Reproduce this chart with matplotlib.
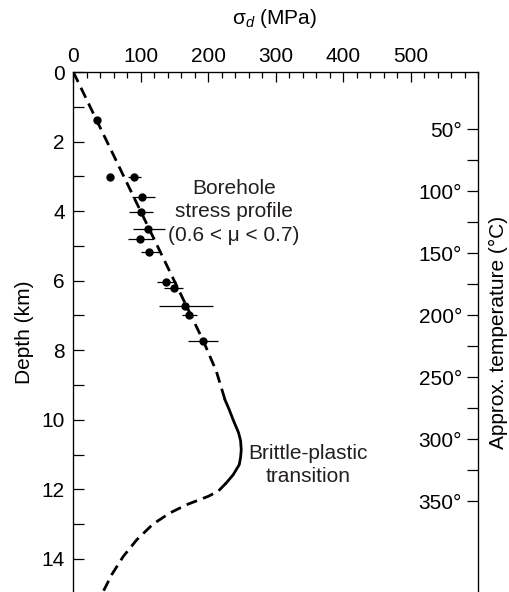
import numpy as np
import matplotlib.pyplot as plt
from matplotlib.ticker import MultipleLocator, FixedLocator

plt.rcParams['font.family'] = ['Liberation Sans', 'DejaVu Sans']
plt.rcParams['mathtext.fontset'] = 'custom'
plt.rcParams['mathtext.rm'] = 'Liberation Sans'
plt.rcParams['mathtext.it'] = 'Liberation Sans:italic'

FS = 15

# borehole stress measurements (depth km, stress MPa, horizontal error bar ends)
pt_depth = [1.38, 3.01, 3.01, 3.58, 4.03, 4.52, 4.80, 5.18, 6.03, 6.20, 6.74, 7.00, 7.72]
pt_stress = [35, 54, 90, 102, 100, 111, 99, 112, 137, 150, 166, 172, 192]
err_lo = [35, 54, 81.5, 86.5, 83, 89, 81.5, 100, 124.4, 134, 127, 160.6, 170]
err_hi = [35, 54, 101, 121, 118.5, 136, 117.6, 128, 152, 163, 207, 184, 215]

# extrapolated strength profile
upper_depth = [0, 7.7, 8.6, 9.43]
upper_stress = [0, 192, 212, 225]
solid_depth = [9.43, 9.7, 10.0, 10.37, 10.6, 10.86, 11.08, 11.29, 11.58, 11.81]
solid_stress = [225, 231, 237, 245, 248, 249, 248, 246, 237, 227]
lower_depth = [11.81, 12.05, 12.2, 12.44, 12.68, 13.0, 13.45, 13.93, 14.45, 14.95]
lower_stress = [227, 215, 200, 168, 143, 118, 94, 74, 57, 44]

depth_ticks = [0, 2, 4, 6, 8, 10, 12, 14]
stress_ticks = [0, 100, 200, 300, 400, 500]
temp_ticks = [50, 100, 150, 200, 250, 300, 350]
temp_minor = [75, 125, 175, 225, 275, 325]

# approximate geotherm used for the right axis
T0, dTdz = 3.8, 28.06

fig = plt.figure(figsize=(5.09, 5.92), dpi=100)
ax = fig.add_axes([73.3 / 509, 0, (478 - 73.3) / 509, 1 - 72 / 592])

ax.plot(upper_stress, upper_depth, color='k', lw=2, ls='--', dashes=(4, 2.3))
ax.plot(solid_stress, solid_depth, color='k', lw=2)
ax.plot(lower_stress, lower_depth, color='k', lw=2, ls='--', dashes=(4, 2.3))

pt_stress = np.array(pt_stress)
xerr = [pt_stress - np.array(err_lo), np.array(err_hi) - pt_stress]
ax.errorbar(pt_stress, pt_depth, xerr=xerr, fmt='o', color='k', ms=5,
            elinewidth=0.9, capsize=0)

ax.text(238, 4.02, 'Borehole\nstress profile\n(0.6 < μ < 0.7)', ha='center',
        va='center', fontsize=FS, color='#231f20', linespacing=1.3)
ax.text(348, 11.3, 'Brittle-plastic\ntransition', ha='center', va='center',
        fontsize=FS, color='#231f20', linespacing=1.3)

ax.set_xlim(0, 600)
ax.set_ylim(14.95, 0)
ax.xaxis.tick_top()
ax.set_xticks(stress_ticks)
ax.xaxis.set_minor_locator(MultipleLocator(20))
ax.set_yticks(depth_ticks)
ax.yaxis.set_minor_locator(MultipleLocator(1))
ax.tick_params(axis='x', which='major', direction='in', length=7, width=0.9,
               labelsize=FS, pad=4.5, top=True, bottom=False)
ax.tick_params(axis='x', which='minor', direction='in', length=4, width=0.9,
               top=True, bottom=False)
ax.tick_params(axis='y', which='both', direction='in', length=8, width=0.9,
               labelsize=FS, pad=6)
ax.spines['bottom'].set_visible(False)
for s in ['left', 'top', 'right']:
    ax.spines[s].set_linewidth(0.9)

ax2 = ax.twinx()
ax2.set_ylim(T0 + dTdz * 14.95, T0)
ax2.yaxis.set_major_locator(FixedLocator(temp_ticks))
ax2.yaxis.set_minor_locator(FixedLocator(temp_minor))
ax2.set_yticklabels(['{}°'.format(t) for t in temp_ticks])
ax2.tick_params(axis='y', which='both', direction='in', length=8, width=0.9,
                labelsize=FS, pad=-11.5)
for t in ax2.get_yticklabels():
    t.set_horizontalalignment('right')
ax2.spines['bottom'].set_visible(False)

fig.text(275, 592 - 18, 'σ$_d$ (MPa)', transform=None, ha='center', va='center',
         fontsize=FS)
fig.text(25, 592 - 332, 'Depth (km)', transform=None, ha='center', va='center',
         rotation=90, fontsize=FS)
fig.text(498, 592 - 332, 'Approx. temperature (°C)', transform=None,
         ha='center', va='center', rotation=90, fontsize=FS)

fig.savefig('out.png', dpi=100)
